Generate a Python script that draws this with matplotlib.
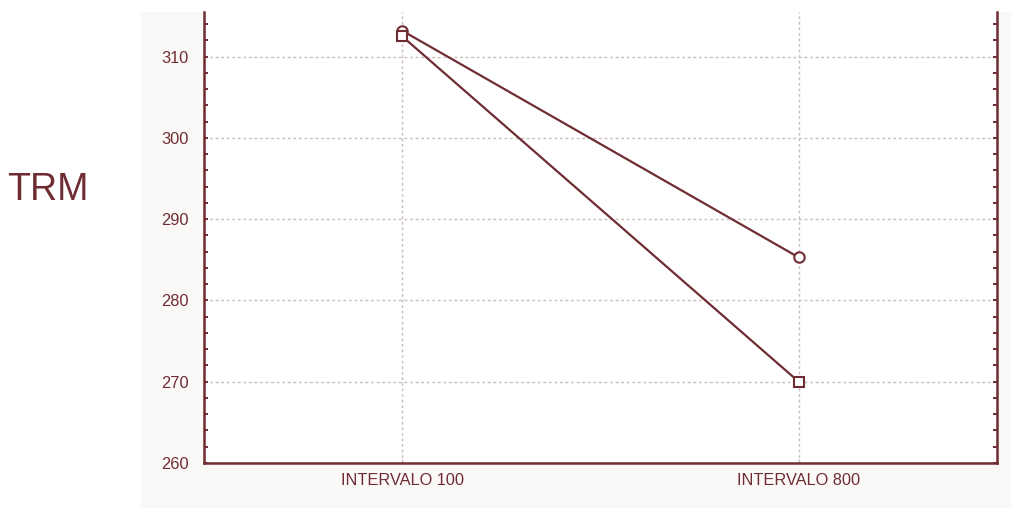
import numpy as np
import matplotlib.pyplot as plt
from matplotlib.patches import Rectangle
from matplotlib.ticker import MultipleLocator

plt.rcParams['font.family'] = ['Liberation Sans', 'DejaVu Sans']

# Means for the two groups at each interval
categories = ["INTERVALO 100", "INTERVALO 800"]
serie_circulo = [313.2, 285.3]
serie_cuadrado = [312.5, 270.0]

maroon = "#6f2d33"
grid_col = "#c9bdb9"
panel_col = "#fbf9f7"

fig = plt.figure(figsize=(10.12, 5.08), dpi=100)
fig.patch.set_facecolor("white")

# off-white panel behind the plot
fig.patches.append(Rectangle((141 / 1012, 0), 1 - 141 / 1012, 1 - 12 / 508,
                             transform=fig.transFigure, facecolor=panel_col,
                             edgecolor="none", zorder=-10))

ax = fig.add_axes([204 / 1012, 1 - 463 / 508, (997 - 204) / 1012, (463 - 12) / 508])
ax.set_facecolor("white")

x = np.arange(len(categories))
ax.plot(x, serie_circulo, color=maroon, lw=1.6, marker="o", ms=7.5,
        mfc="white", mec=maroon, mew=1.5, zorder=3)
ax.plot(x, serie_cuadrado, color=maroon, lw=1.6, marker="s", ms=7.5,
        mfc="white", mec=maroon, mew=1.5, zorder=3)

ax.set_xlim(-0.5, 1.5)
ax.set_ylim(260, 315.5)
ax.set_xticks(x)
ax.set_xticklabels(categories)
ax.yaxis.set_major_locator(MultipleLocator(10))
ax.yaxis.set_minor_locator(MultipleLocator(2))

ax.grid(True, which="major", color=grid_col, linestyle=(0, (2, 2)), lw=1)

for side in ["left", "right", "bottom"]:
    ax.spines[side].set_color(maroon)
    ax.spines[side].set_linewidth(1.8)
ax.spines["top"].set_visible(False)

ax.tick_params(axis="y", which="both", direction="in", left=True, right=True,
               length=3, width=1.4, color=maroon, labelcolor=maroon,
               labelsize=11.8, pad=11)
ax.tick_params(axis="x", direction="in", length=3, width=1, color=grid_col,
               labelcolor=maroon, labelsize=11.8, pad=7)

fig.text(48 / 1012, 1 - 190 / 508, "TRM", color=maroon, fontsize=27,
         ha="center", va="center")

plt.savefig("out.png", dpi=100)
